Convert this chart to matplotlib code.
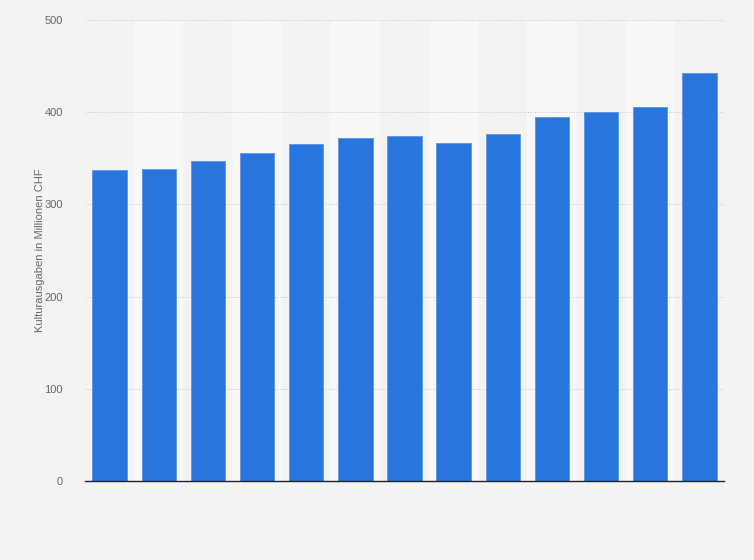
import matplotlib
matplotlib.use("Agg")
import matplotlib.pyplot as plt

plt.rcParams["font.family"] = ["Liberation Sans", "DejaVu Sans"]

# Kulturausgaben (Mio. CHF)
positions = list(range(13))
values = [337, 338, 347, 356, 366, 372, 374, 367, 376, 395, 400, 406, 443]
y_ticks = [0, 100, 200, 300, 400, 500]
y_label = "Kulturausgaben in Millionen CHF"

bg = "#f3f3f3"
band = "#f8f8f8"
bar_color = "#2876dd"

fig = plt.figure(figsize=(7.54, 5.60), dpi=100)
fig.patch.set_facecolor(bg)
ax = fig.add_axes([85 / 754, 1 - 481 / 560, (724 - 85) / 754, (481 - 20) / 560])
ax.set_facecolor(bg)

# alternating column bands
for i in positions:
    if i % 2 == 1:
        ax.axvspan(i - 0.5, i + 0.5, color=band, zorder=0, lw=0)

ax.bar(positions, values, width=0.7, color=bar_color, zorder=3,
       edgecolor="#5a95e6", linewidth=0.6)

ax.set_xlim(-0.5, len(positions) - 0.5)
ax.set_ylim(0, 500)
ax.set_yticks(y_ticks)
ax.set_yticklabels([str(t) for t in y_ticks], fontsize=8, color="#666666")
ax.set_xticks([])
ax.tick_params(axis="y", length=0, pad=16)
ax.grid(axis="y", color="#c8c8c8", linestyle=(0, (1, 1.5)), linewidth=0.7, zorder=1)

for s in ["top", "right", "left"]:
    ax.spines[s].set_visible(False)
ax.spines["bottom"].set_color("#222222")
ax.spines["bottom"].set_linewidth(1.0)
ax.spines["bottom"].set_zorder(4)

ax.set_ylabel(y_label, fontsize=8, color="#666666")
ax.yaxis.set_label_coords((45 - 85) / 639, 0.5)

fig.savefig("out.png", dpi=100, facecolor=bg)
